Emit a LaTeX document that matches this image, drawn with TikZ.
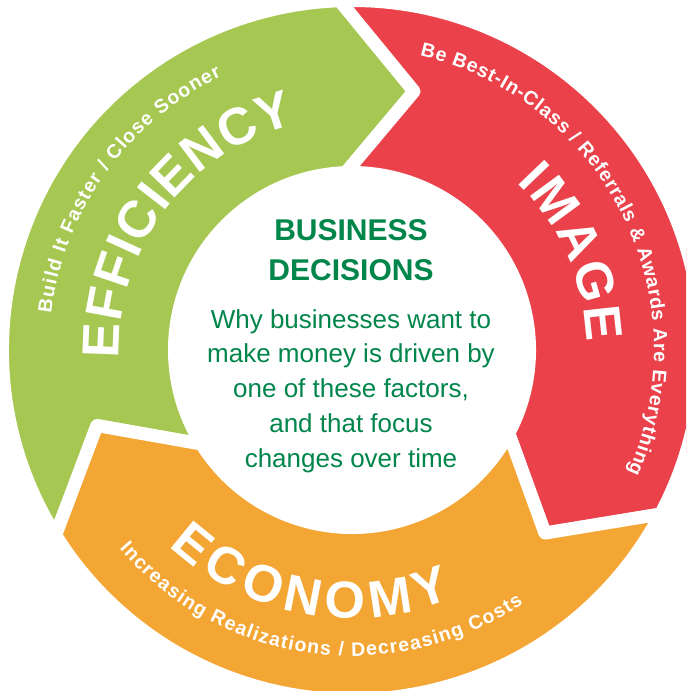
\documentclass[tikz,border=0pt]{standalone}
\usepackage{fontspec}
\setmainfont{Liberation Sans}
\usetikzlibrary{decorations.text}
\definecolor{effgreen}{RGB}{166,200,82}
\definecolor{imgred}{RGB}{234,65,74}
\definecolor{ecoorange}{RGB}{244,166,52}
\definecolor{textgreen}{RGB}{0,133,74}

\newcommand\bigword{\bfseries\fontsize{52}{52}\selectfont}
\newcommand\tagline{\bfseries\fontsize{19.5}{19.5}\selectfont}

\begin{document}
\begin{tikzpicture}[x=1pt, y=1pt,
    segment/.style={draw=white, line width=13pt, line join=round},
    arctext/.style={decorate, decoration={text along path, text align=fit to path, text color=white, text={#1}}},
    headline/.style={text=textgreen, font=\bfseries\fontsize{30}{40}\selectfont, align=center, anchor=base, inner sep=0pt},
    blurbtext/.style={text=textgreen, font=\fontsize{26}{34.7}\selectfont, align=center, anchor=base, inner sep=0pt}]
        % Page
        \useasboundingbox (-352,-341) rectangle (334,350);
        \fill[white] (-352,-341) rectangle (334,350);
        \clip (-352,-341) rectangle (334,350);

        % Ring segments
        \foreach \a/\col in {212/effgreen, 92/imgred, -28/ecoorange}
            \filldraw[segment, fill=\col] (\a:349.5) arc[start angle=\a, end angle=\a-120, radius=349.5]
                -- (\a-135.5:266) -- (\a-120:177.5) arc[start angle=\a-120, end angle=\a, radius=177.5]
                -- (\a-15.5:266) -- cycle;

        % Efficiency
        \path[arctext={|\bigword|EFFICIENCY}] (182:233) arc[start angle=182, end angle=104, radius=233];
        \path[arctext={|\tagline|Build It Faster / Close Sooner}] (173:303) arc[start angle=173, end angle=115.5, radius=303];

        % Image
        \path[arctext={|\bigword|IMAGE}] (45.5:235) arc[start angle=45.5, end angle=2, radius=235];
        \path[arctext={|\tagline|Be Best-In-Class / Referrals {\&} Awards Are Everything}] (77:302) arc[start angle=77, end angle=-24, radius=302];

        % Economy
        \path[arctext={|\bigword|ECONOMY}] (227:268) arc[start angle=227, end angle=292, radius=268];
        \path[arctext={|\tagline|Increasing Realizations / Decreasing Costs}] (220.5:306) arc[start angle=220.5, end angle=304, radius=306];

        % Centre (base = last line)
        \node[headline] (title) at (-1,70) {BUSINESS\\DECISIONS};
        \node[blurbtext] (blurb) at (-1,-117) {Why businesses want to\\make money is driven by\\one of these factors,\\and that focus\\changes over time};
    \end{tikzpicture}
\end{document}
